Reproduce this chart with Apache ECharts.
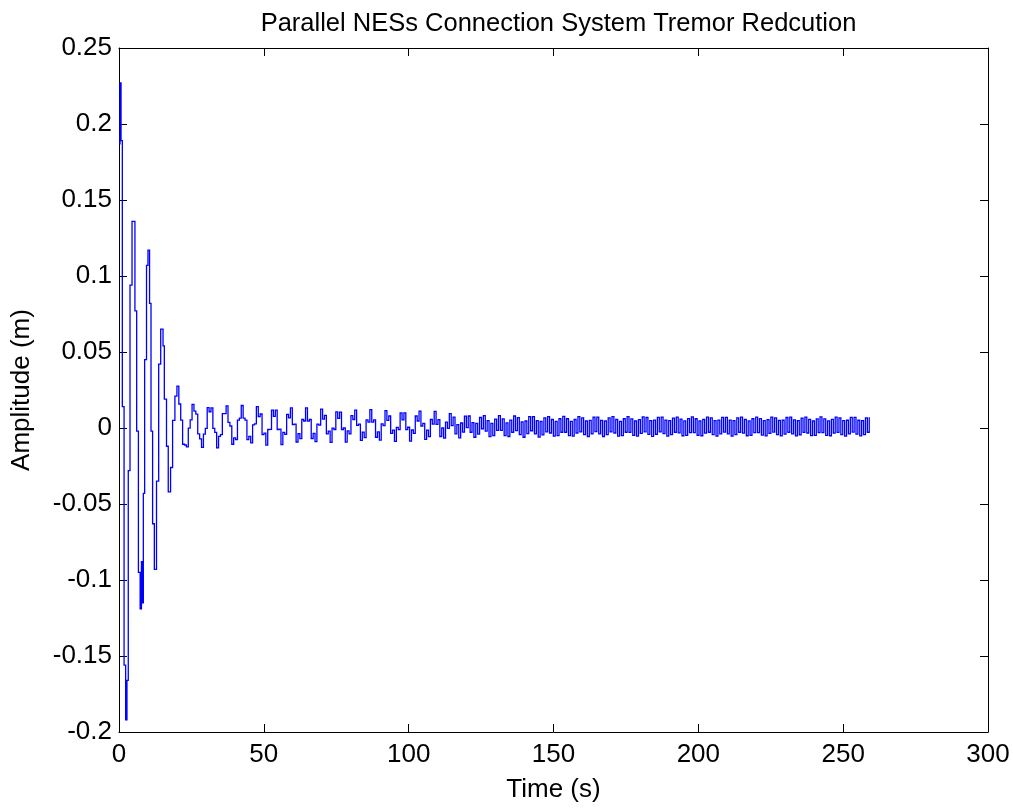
<!DOCTYPE html>
<html>
<head>
<meta charset="utf-8">
<script src="https://cdn.jsdelivr.net/npm/echarts@6/dist/echarts.min.js"></script>
<style>
html,body{margin:0;padding:0;background:#fff;}
#chart{width:1013px;height:808px;}
</style>
</head>
<body>
<div id="chart"></div>
<script>
// ---- data ----
const TITLE = 'Parallel NESs Connection System Tremor Redcution';
const X_NAME = 'Time (s)';
const Y_NAME = 'Amplitude (m)';
const X_TICKS = [0, 50, 100, 150, 200, 250, 300];
const Y_TICKS = [-0.2, -0.15, -0.1, -0.05, 0, 0.05, 0.1, 0.15, 0.2, 0.25];

// first ~20 s: step times (s) and held values (m)
const EARLY_T = [0.00, 0.35, 0.70, 1.15, 1.75, 2.30, 2.75, 3.20, 3.80, 4.50, 5.50, 6.10, 6.70, 7.30, 7.75, 8.05, 8.40, 8.85, 9.50, 10.00, 10.55, 11.05, 11.60, 12.20, 12.95, 13.70, 14.40, 15.20, 15.65, 16.40, 17.00, 17.80, 18.50, 19.30];
const EARLY_V = [0.187, 0.227, 0.189, 0.014, -0.156, -0.192, -0.166, -0.028, 0.094, 0.136, 0.077, -0.002, -0.095, -0.119, -0.088, -0.115, -0.043, 0.045, 0.107, 0.117, 0.082, -0.002, -0.063, -0.093, -0.035, 0.042, 0.065, 0.054, 0.019, -0.012, -0.042, -0.026, 0.005, 0.021];

// after 20 s the trace is a regular staircase: sample grid start and step (s)
const LATE_START = 20.0;
const LATE_STEP = 0.653;
const LATE_V = [
0.0275, 0.0158, 0.0052, -0.0107, -0.0112, -0.0124, -0.0001, 0.0054, 0.0156, 0.0111, 0.0091, -0.0039, -0.0071, -0.0128, -0.0040, -0.0002, 0.0134,
0.0107, 0.0132, -0.0002, -0.0029, -0.0131, -0.0055, -0.0044, 0.0095, 0.0094, 0.0145, 0.0037, 0.0013, -0.0107, -0.0065, -0.0076, 0.0052, 0.0065,
0.0148, 0.0065, 0.0052, -0.0076, -0.0055, -0.0098, 0.0021, 0.0027, 0.0141, 0.0075, 0.0092, -0.0044, -0.0034, -0.0113, -0.0010, -0.0009, 0.0118,
0.0076, 0.0118, -0.0010, -0.0008, -0.0110, -0.0029, -0.0042, 0.0089, 0.0066, 0.0132, 0.0023, 0.0025, -0.0092, -0.0037, -0.0070, 0.0056, 0.0046,
0.0133, 0.0045, 0.0056, -0.0069, -0.0035, -0.0090, 0.0026, 0.0019, 0.0124, 0.0058, 0.0083, -0.0039, -0.0021, -0.0095, -0.0001, -0.0010, 0.0106,
0.0063, 0.0105, -0.0010, 0.0000, -0.0093, -0.0019, -0.0038, 0.0082, 0.0056, 0.0118, 0.0017, 0.0026, -0.0082, -0.0027, -0.0063, 0.0054, 0.0039,
0.0121, 0.0038, 0.0054, -0.0061, -0.0026, -0.0080, 0.0027, 0.0016, 0.0114, 0.0050, 0.0079, -0.0036, -0.0014, -0.0088, 0.0004, -0.0011, 0.0099,
0.0053, 0.0099, -0.0011, 0.0005, -0.0086, -0.0013, -0.0036, 0.0079, 0.0046, 0.0111, 0.0013, 0.0031, -0.0075, -0.0014, -0.0057, 0.0056, 0.0026,
0.0110, 0.0024, 0.0055, -0.0056, 0.0000, -0.0067, 0.0039, -0.0002, 0.0094, 0.0016, 0.0072, -0.0038, 0.0022, -0.0065, 0.0033, -0.0027, 0.0078,
0.0003, 0.0079, -0.0028, 0.0036, -0.0061, 0.0030, -0.0040, 0.0069, -0.0005, 0.0082, -0.0021, 0.0049, -0.0057, 0.0031, -0.0050, 0.0059, -0.0016,
0.0082, -0.0016, 0.0060, -0.0050, 0.0034, -0.0056, 0.0052, -0.0028, 0.0079, -0.0017, 0.0068, -0.0044, 0.0040, -0.0061, 0.0046, -0.0037, 0.0075,
-0.0018, 0.0075, -0.0038, 0.0048, -0.0060, 0.0043, -0.0045,
0.0067, -0.0025, 0.0075, -0.0033, 0.0056, -0.0054, 0.0044, -0.0050, 0.0061, -0.0028,
0.0076, -0.0028, 0.0061, -0.0050, 0.0044, -0.0054, 0.0056, -0.0033, 0.0075, -0.0025,
0.0067, -0.0044, 0.0046, -0.0056, 0.0050, -0.0039, 0.0072, -0.0024, 0.0072, -0.0039,
0.0050, -0.0056, 0.0046, -0.0044, 0.0067, -0.0025, 0.0075, -0.0033, 0.0056, -0.0054,
0.0044, -0.0050, 0.0061, -0.0028,
0.0075, -0.0029, 0.0060, -0.0048, 0.0046, -0.0053, 0.0055, -0.0035, 0.0073, -0.0026, 0.0069, -0.0042, 0.0048, -0.0055, 0.0052, -0.0041, 0.0070, -0.0026, 0.0071, -0.0037, 0.0052, -0.0054, 0.0048, -0.0043, 0.0065, -0.0028, 0.0072, -0.0032, 0.0059, -0.0051, 0.0047, -0.0049, 0.0062, -0.0030,
0.0073, -0.0030, 0.0061, -0.0048, 0.0047, -0.0051, 0.0056, -0.0034, 0.0072, -0.0028, 0.0066, -0.0044, 0.0049, -0.0053, 0.0052, -0.0039, 0.0070, -0.0027, 0.0070, -0.0039, 0.0052, -0.0053, 0.0049, -0.0044, 0.0066, -0.0028, 0.0072, -0.0034, 0.0056, -0.0051, 0.0047, -0.0048, 0.0061, -0.0030,
0.0072, -0.0031, 0.0062, -0.0047, 0.0048, -0.0052, 0.0055, -0.0035, 0.0071, -0.0027, 0.0067, -0.0043, 0.0050, -0.0052, 0.0051, -0.0040, 0.0069, -0.0028, 0.0071, -0.0038, 0.0053, -0.0052, 0.0048, -0.0045, 0.0065, -0.0029, 0.0071, -0.0033, 0.0057, -0.0050, 0.0046, -0.0049, 0.0060, -0.0031,
0.0073, -0.0030, 0.0060, -0.0049, 0.0047, -0.0051, 0.0057, -0.0034, 0.0072, -0.0029, 0.0066, -0.0043, 0.0049, -0.0053, 0.0051, -0.0038, 0.0070, -0.0027, 0.0070, -0.0040, 0.0051, -0.0052, 0.0049, -0.0044, 0.0066, -0.0028, 0.0071
];

// ---- build sample list (time, value) ----
const samples = [];
EARLY_T.forEach((t, i) => samples.push([t, EARLY_V[i]]));
LATE_V.forEach((v, i) => samples.push([+(LATE_START + i * LATE_STEP).toFixed(3), v]));

const FONT = "'Liberation Sans', Arial, Helvetica, sans-serif";
const FS = 26;
const GRID = {left: 119, right: 25, top: 48, bottom: 76};
const W = 1013;
const chart = echarts.init(document.getElementById('chart'), null, {renderer: 'canvas'});

const xMin = X_TICKS[0], xMax = X_TICKS[X_TICKS.length - 1], xInt = X_TICKS[1] - X_TICKS[0];
const yMin = Y_TICKS[0], yMax = Y_TICKS[Y_TICKS.length - 1], yInt = +(Y_TICKS[1] - Y_TICKS[0]).toFixed(4);

const axisCommon = {
  axisLine: {show: true, onZero: false, lineStyle: {color: '#000', width: 1}},
  axisTick: {show: true, inside: true, length: 8, lineStyle: {color: '#000', width: 1}},
  splitLine: {show: false}
};

// sample-and-hold (stairs) trace drawn through the axis scales
function renderStairs(params, api) {
  const pts = [];
  for (let i = 0; i < samples.length; i++) {
    pts.push(api.coord(samples[i]));
    if (i + 1 < samples.length) {
      pts.push(api.coord([samples[i + 1][0], samples[i][1]]));
    }
  }
  return {
    type: 'polyline',
    shape: {points: pts},
    style: {stroke: '#0000ff', lineWidth: 1.3, fill: null}
  };
}

chart.setOption({
  animation: false,
  backgroundColor: '#fff',
  title: {
    text: TITLE,
    left: (GRID.left + (W - GRID.right)) / 2,
    textAlign: 'center',
    top: 6,
    textStyle: {fontFamily: FONT, fontSize: 25.5, fontWeight: 'normal', color: '#000'}
  },
  grid: Object.assign({show: false}, GRID),
  xAxis: [
    Object.assign({
      type: 'value', min: xMin, max: xMax, interval: xInt, position: 'bottom',
      name: X_NAME, nameLocation: 'middle', nameGap: 45,
      nameTextStyle: {fontFamily: FONT, fontSize: FS, color: '#000'},
      axisLabel: {fontFamily: FONT, fontSize: FS, color: '#000', margin: 10}
    }, axisCommon),
    Object.assign({
      type: 'value', min: xMin, max: xMax, interval: xInt, position: 'top',
      axisLabel: {show: false}
    }, axisCommon)
  ],
  yAxis: [
    Object.assign({
      type: 'value', min: yMin, max: yMax, interval: yInt, position: 'left',
      name: Y_NAME, nameLocation: 'middle', nameGap: 84,
      nameTextStyle: {fontFamily: FONT, fontSize: FS, color: '#000'},
      axisLabel: {fontFamily: FONT, fontSize: FS, color: '#000', margin: 7,
        formatter: v => String(+v.toFixed(2))}
    }, axisCommon),
    Object.assign({
      type: 'value', min: yMin, max: yMax, interval: yInt, position: 'right',
      axisLabel: {show: false}
    }, axisCommon)
  ],
  series: [{
    type: 'custom',
    xAxisIndex: 0, yAxisIndex: 0,
    coordinateSystem: 'cartesian2d',
    data: [samples[0]],
    renderItem: renderStairs,
    silent: true,
    clip: true
  }]
});
</script>
</body>
</html>
